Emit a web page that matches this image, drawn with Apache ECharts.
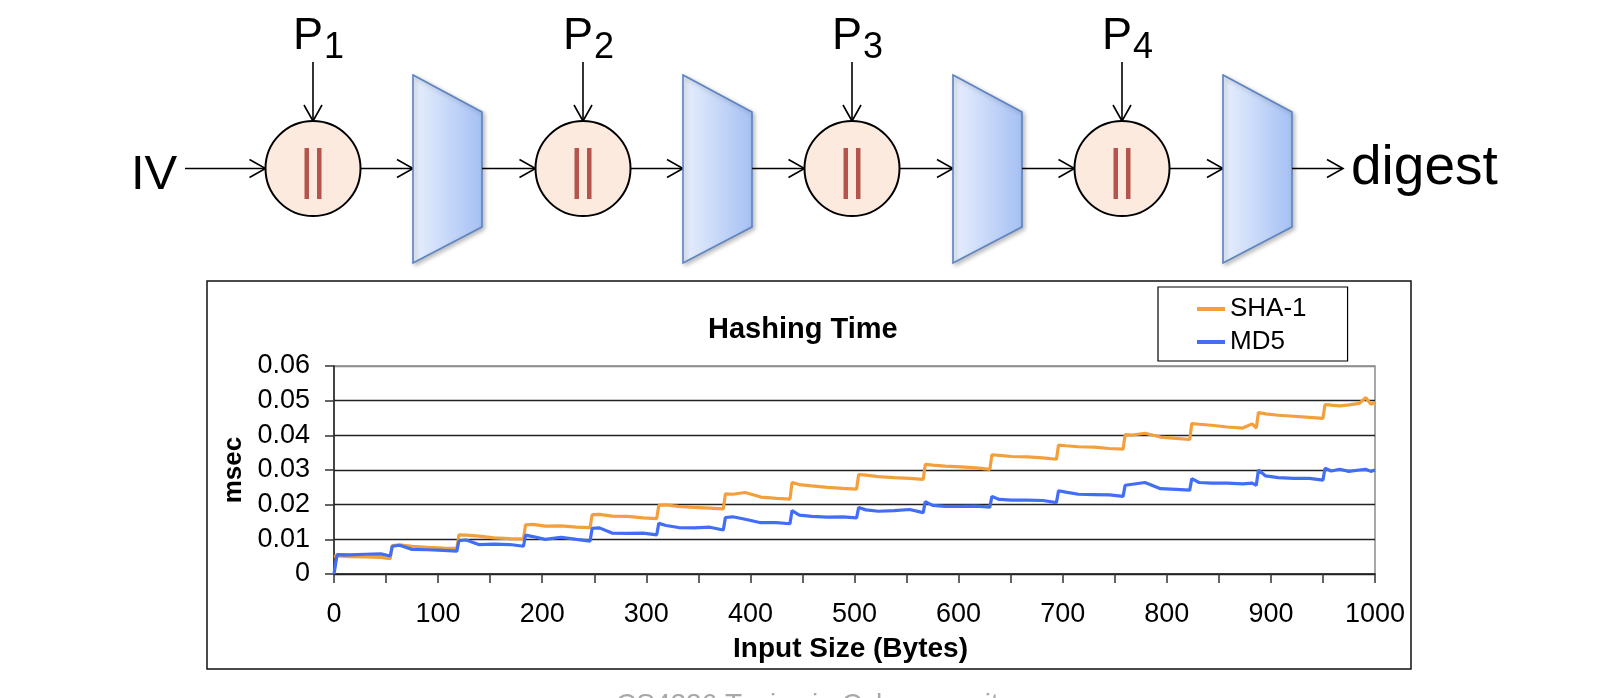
<!DOCTYPE html>
<html>
<head>
<meta charset="utf-8">
<script src="https://cdn.jsdelivr.net/npm/echarts@6/dist/echarts.min.js"></script>
<style>html,body{margin:0;padding:0;background:#fff}#c{width:1610px;height:698px}</style>
</head>
<body>
<div id="c"></div>
<script>
// ---- data ----
const inputSizes = [
  0, 3, 15, 30, 45, 54,
  56, 63, 75, 90, 105, 118,
  120, 127, 139, 154, 169, 182,
  184, 191, 203, 218, 233, 246,
  248, 255, 267, 282, 297, 310,
  312, 319, 331, 346, 361, 374,
  376, 383, 395, 410, 425, 438,
  440, 447, 459, 474, 489, 502,
  504, 511, 523, 538, 553, 566,
  568, 575, 587, 602, 617, 630,
  632, 639, 651, 666, 681, 694,
  696, 703, 715, 730, 745, 758,
  760, 767, 779, 794, 809, 822,
  824, 831, 843, 858, 873, 882, 886,
  888, 895, 907, 922, 937, 950,
  952, 958, 966, 975, 985, 991, 996, 1000
];
const sha1Ms = [
  0.0050, 0.0052, 0.0050, 0.0049, 0.0048, 0.0044,
  0.0082, 0.0084, 0.0080, 0.0077, 0.0075, 0.0074,
  0.0113, 0.0112, 0.0109, 0.0104, 0.0102, 0.0101,
  0.0142, 0.0143, 0.0138, 0.0139, 0.0135, 0.0134,
  0.0171, 0.0172, 0.0167, 0.0166, 0.0162, 0.0160,
  0.0198, 0.0199, 0.0195, 0.0192, 0.0190, 0.0188,
  0.0231, 0.0230, 0.0235, 0.0222, 0.0218, 0.0216,
  0.0264, 0.0258, 0.0254, 0.0250, 0.0247, 0.0245,
  0.0287, 0.0285, 0.0281, 0.0278, 0.0276, 0.0273,
  0.0316, 0.0314, 0.0311, 0.0309, 0.0306, 0.0302,
  0.0344, 0.0342, 0.0339, 0.0338, 0.0335, 0.0331,
  0.0372, 0.0370, 0.0367, 0.0366, 0.0362, 0.0360,
  0.0402, 0.0401, 0.0406, 0.0395, 0.0391, 0.0388,
  0.0434, 0.0432, 0.0429, 0.0424, 0.0421, 0.0433, 0.0421,
  0.0466, 0.0462, 0.0458, 0.0455, 0.0452, 0.0449,
  0.0489, 0.0487, 0.0485, 0.0488, 0.0492, 0.0509, 0.0490, 0.0494
];
const md5Ms = [
  0.0000, 0.0056, 0.0055, 0.0057, 0.0058, 0.0052,
  0.0080, 0.0083, 0.0071, 0.0070, 0.0068, 0.0066,
  0.0096, 0.0098, 0.0085, 0.0086, 0.0085, 0.0080,
  0.0112, 0.0108, 0.0100, 0.0106, 0.0100, 0.0095,
  0.0132, 0.0133, 0.0118, 0.0117, 0.0118, 0.0113,
  0.0146, 0.0140, 0.0134, 0.0133, 0.0135, 0.0127,
  0.0163, 0.0165, 0.0158, 0.0148, 0.0148, 0.0145,
  0.0183, 0.0170, 0.0166, 0.0164, 0.0165, 0.0162,
  0.0192, 0.0185, 0.0181, 0.0183, 0.0186, 0.0177,
  0.0209, 0.0198, 0.0195, 0.0195, 0.0196, 0.0193,
  0.0224, 0.0215, 0.0213, 0.0213, 0.0212, 0.0206,
  0.0240, 0.0236, 0.0230, 0.0229, 0.0228, 0.0224,
  0.0256, 0.0259, 0.0264, 0.0246, 0.0244, 0.0242,
  0.0275, 0.0264, 0.0262, 0.0262, 0.0260, 0.0262, 0.0256,
  0.0300, 0.0283, 0.0278, 0.0276, 0.0276, 0.0271,
  0.0305, 0.0297, 0.0302, 0.0296, 0.0300, 0.0302, 0.0296, 0.0300
];
const seriesNames = ['SHA-1', 'MD5'];
const xTickLabels = [0, 100, 200, 300, 400, 500, 600, 700, 800, 900, 1000];
const yTickLabels = ['0', '0.01', '0.02', '0.03', '0.04', '0.05', '0.06'];
const blockLabels = ['1', '2', '3', '4'];

// ---- diagram layout ----
const FF = "'Liberation Sans', Arial, Helvetica, sans-serif";
const lineY = 168.5;
const circleX = [313, 583, 852, 1122];
const R = 47.5;
const trapX = [413, 683, 953, 1223];
const trapW = 69;

function arrow(x1, y1, x2, y2) {
  const dx = x2 - x1, dy = y2 - y1, L = Math.hypot(dx, dy), ux = dx / L, uy = dy / L;
  const hl = 16, hw = 9;
  const bx = x2 - ux * hl, by = y2 - uy * hl;
  return [
    {type: 'line', shape: {x1, y1, x2, y2}, style: {stroke: '#000', lineWidth: 1.6}},
    {type: 'polyline', shape: {points: [[bx - uy * hw, by + ux * hw], [x2, y2], [bx + uy * hw, by - ux * hw]]},
     style: {stroke: '#000', lineWidth: 1.6, fill: null}}
  ];
}

const g = [];
// outer chart frame
g.push({type: 'rect', shape: {x: 207, y: 281, width: 1204, height: 388}, style: {fill: null, stroke: '#111', lineWidth: 1.5}, z: -10});
// IV
g.push({type: 'text', style: {text: 'IV', x: 131, y: 175, fontSize: 49, fontFamily: FF, fill: '#000', verticalAlign: 'middle'}});
g.push(...arrow(185, lineY, circleX[0] - R, lineY));
circleX.forEach((cx, i) => {
  g.push({type: 'text', style: {text: 'P', x: cx - 20, y: 37, fontSize: 45, fontFamily: FF, fill: '#000', verticalAlign: 'middle'}});
  g.push({type: 'text', style: {text: blockLabels[i], x: cx + 11, y: 48, fontSize: 36, fontFamily: FF, fill: '#000', verticalAlign: 'middle'}});
  g.push(...arrow(cx, 62, cx, lineY - R));
  g.push({type: 'circle', shape: {cx: cx, cy: lineY, r: R}, style: {fill: '#FBEADD', stroke: '#000', lineWidth: 2}});
  g.push({type: 'rect', shape: {x: cx - 8.5, y: 148, width: 4.5, height: 51}, style: {fill: '#B5544D'}});
  g.push({type: 'rect', shape: {x: cx + 4, y: 148, width: 4.5, height: 51}, style: {fill: '#B5544D'}});
  g.push(...arrow(cx + R, lineY, trapX[i], lineY));
  const L = trapX[i], Rt = trapX[i] + trapW;
  g.push({type: 'polygon', shape: {points: [[L, 75], [Rt, 112], [Rt, 227], [L, 263]]},
    style: {fill: {type: 'linear', x: 0, y: 0, x2: 1, y2: 0, colorStops: [{offset: 0, color: '#E9F0FD'}, {offset: 1, color: '#A5C0F4'}]},
            stroke: '#5B83C3', lineWidth: 1.6, shadowBlur: 4, shadowOffsetX: 2, shadowOffsetY: 2, shadowColor: 'rgba(0,0,0,0.25)'}});
  if (i < circleX.length - 1) {
    g.push(...arrow(Rt, lineY, circleX[i + 1] - R, lineY));
  } else {
    g.push(...arrow(Rt, lineY, 1343, lineY));
  }
});
g.push({type: 'text', style: {text: 'digest', x: 1351, y: 169, fontSize: 55, fontFamily: FF, fill: '#000', verticalAlign: 'middle'}});
// footer (clipped at bottom of slide)
g.push({type: 'text', style: {text: 'CS4236 Topics in Cybersecurity', x: 616, y: 705, fontSize: 28, fontFamily: FF, fill: '#A8A8A8', verticalAlign: 'middle'}});

const chart = echarts.init(document.getElementById('c'), null, {renderer: 'canvas'});
chart.setOption({
  animation: false,
  backgroundColor: '#fff',
  title: {text: 'Hashing Time', left: 708, top: 315, padding: 0,
    textStyle: {fontFamily: FF, fontSize: 29, fontWeight: 'bold', color: '#000'}},
  legend: {
    data: seriesNames, orient: 'vertical', left: 1158, top: 287,
    icon: 'rect', itemWidth: 28, itemHeight: 4, itemGap: 7,
    padding: [9, 41, 6, 39], borderColor: '#000', borderWidth: 1.2, backgroundColor: '#fff',
    textStyle: {fontFamily: FF, fontSize: 26, color: '#000'}
  },
  grid: {left: 334, right: 235, top: 366, bottom: 124, show: true, borderColor: '#8c8c8c', borderWidth: 1.5, backgroundColor: 'transparent'},
  xAxis: {
    type: 'value', min: 0, max: 1000, interval: 50,
    name: 'Input Size (Bytes)', nameLocation: 'middle', nameGap: 61,
    nameTextStyle: {fontFamily: FF, fontSize: 28, fontWeight: 'bold', color: '#000', padding: [0, 8, 0, 0]},
    axisLine: {show: true, lineStyle: {color: '#222', width: 1.5}},
    axisTick: {show: true, length: 9, lineStyle: {color: '#333', width: 1.5}},
    axisLabel: {fontFamily: FF, fontSize: 27, color: '#000', margin: 27,
      formatter: v => xTickLabels.includes(v) ? String(v) : ''},
    splitLine: {show: false}
  },
  yAxis: {
    type: 'value', min: 0, max: 0.06, interval: 0.01,
    name: 'msec', nameLocation: 'middle', nameGap: 87,
    nameTextStyle: {fontFamily: FF, fontSize: 26, fontWeight: 'bold', color: '#000'},
    axisLine: {show: true, lineStyle: {color: '#222', width: 1.5}},
    axisTick: {show: true, length: 9, lineStyle: {color: '#333', width: 1.5}},
    axisLabel: {fontFamily: FF, fontSize: 27, color: '#000', margin: 24,
      formatter: (v, i) => yTickLabels[i]},
    splitLine: {show: true, lineStyle: {color: ['#222', '#222', '#222', '#222', '#222', '#222', '#8c8c8c'], width: 1.3}}
  },
  series: [
    {name: seriesNames[0], type: 'line', showSymbol: false, data: inputSizes.map((x, i) => [x, sha1Ms[i]]),
     itemStyle: {color: '#F3A03C'}, lineStyle: {color: '#F3A03C', width: 3.2}},
    {name: seriesNames[1], type: 'line', showSymbol: false, data: inputSizes.map((x, i) => [x, md5Ms[i]]),
     itemStyle: {color: '#416EF4'}, lineStyle: {color: '#416EF4', width: 3.2}}
  ],
  graphic: g
});
</script>
</body>
</html>
